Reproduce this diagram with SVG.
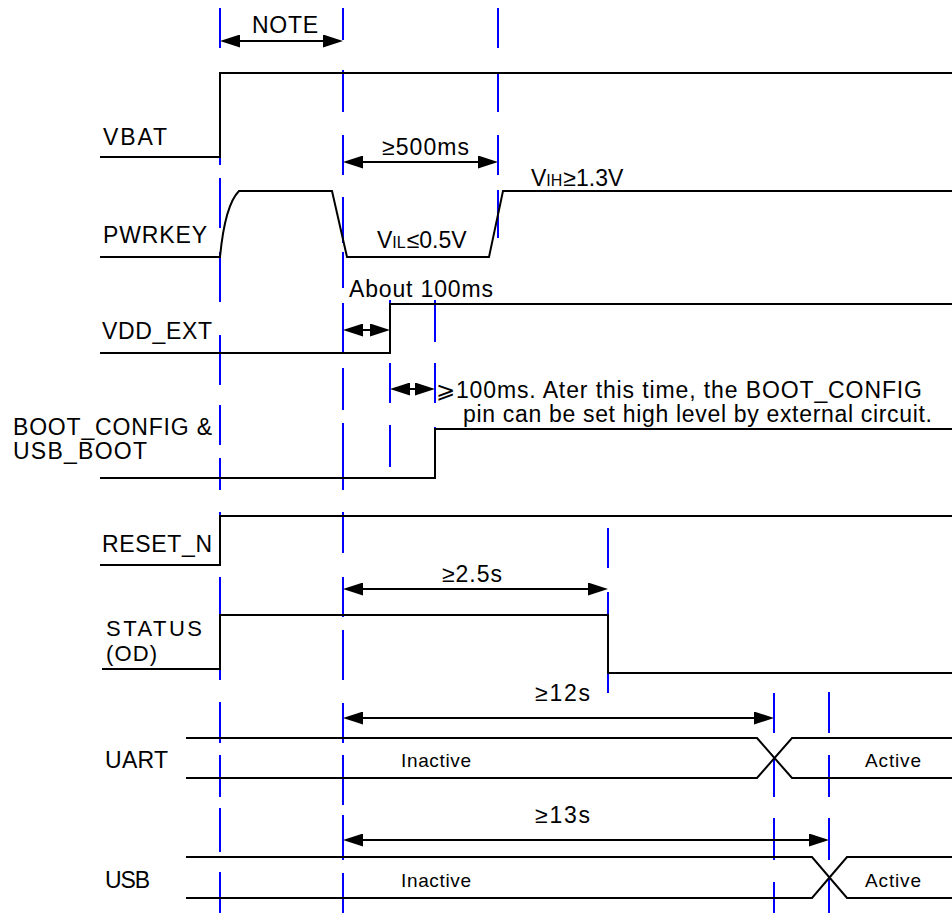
<svg xmlns="http://www.w3.org/2000/svg" width="952" height="913" viewBox="0 0 952 913">
<style>
.sig{fill:none;stroke:#000;stroke-width:2}
.grid{fill:none;stroke:#0000FF;stroke-width:2}
.arr{fill:none;stroke:#000;stroke-width:2;marker-start:url(#ah);marker-end:url(#ah)}
text{font-family:"Liberation Sans",Arial,sans-serif;fill:#000}
.lbl{font-size:23px}
.lbl2{font-size:22px}
.sm{font-size:19px}
</style>
<defs>
<marker id="ah" markerUnits="userSpaceOnUse" markerWidth="20" markerHeight="13" refX="2" refY="6.5" orient="auto-start-reverse" viewBox="0 0 20 13">
<path d="M0,0 L20,6.5 L0,13 z" fill="#000"/>
</marker>
</defs>
<rect width="952" height="913" fill="#fff"/>
<g id="gridlines">
<path class="grid" d="M220,8V48M220,72V165M220,178V228M220,252V302M220,335V385M220,405V445M220,458V490M220,512V565M220,577V680M220,702V743M220,755V797M220,808V852M220,872V913"/>
<path class="grid" d="M343,8V40M343,70V112M343,135V175M343,197V243M343,252V288M343,303V353M343,368V410M343,423V490M343,512V553M343,577V617M343,630V680M343,703V743M343,755V805M343,815V860M343,873V913"/>
<path class="grid" d="M498,8V48M498,72V112M498,135V175M498,190V238"/>
<path class="grid" d="M390,300V342M390,363V403M390,425V467"/>
<path class="grid" d="M435,300V342M435,363V403M435,427V478"/>
<path class="grid" d="M608,528V568M608,592V693"/>
<path class="grid" d="M774,693V733M774,757V797M774,818V860M774,882V913"/>
<path class="grid" d="M829,692V733M829,755V797M829,818V860M829,877V913"/>
</g>
<g id="vbat">
<path class="sig" d="M100,157H220V73H952"/>
<text class="lbl" x="103" y="145" textLength="64" lengthAdjust="spacing">VBAT</text>
</g>
<g id="pwrkey">
<path class="sig" d="M100,257H220Q225,205 239,191H332L347,257H489L503,191H952"/>
<text class="lbl" x="103" y="243" textLength="104" lengthAdjust="spacing">PWRKEY</text>
<text class="lbl" x="377" y="248">V<tspan font-size="16">IL</tspan><tspan dx="1">≤0.5V</tspan></text>
<text class="lbl" x="531" y="186">V<tspan font-size="16">IH</tspan><tspan dx="1">≥1.3V</tspan></text>
</g>
<g id="vdd_ext">
<path class="sig" d="M100,353H390V304H952"/>
<text class="lbl" x="102" y="339" textLength="110" lengthAdjust="spacing">VDD_EXT</text>
</g>
<g id="boot_config">
<path class="sig" d="M100,478H435V429H952"/>
<text class="lbl" x="13" y="435" textLength="199" lengthAdjust="spacing">BOOT_CONFIG &amp;</text>
<text class="lbl" x="13" y="459" textLength="134" lengthAdjust="spacing">USB_BOOT</text>
</g>
<g id="reset_n">
<path class="sig" d="M100,565H220V516H952"/>
<text class="lbl" x="102" y="552" textLength="110" lengthAdjust="spacing">RESET_N</text>
</g>
<g id="status">
<path class="sig" d="M102,669H220V615H608V673H952"/>
<text class="lbl2" x="106" y="636" textLength="96" lengthAdjust="spacing">STATUS</text>
<text class="lbl2" x="106" y="661" textLength="51" lengthAdjust="spacing">(OD)</text>
</g>
<g id="uart">
<path class="sig" d="M186,738H757L792,778H952M186,778H757L792,738H952"/>
<text class="lbl" x="105" y="768" textLength="63" lengthAdjust="spacing">UART</text>
<text class="sm" x="401" y="767" textLength="70" lengthAdjust="spacing">Inactive</text>
<text class="sm" x="865" y="767" textLength="56" lengthAdjust="spacing">Active</text>
</g>
<g id="usb">
<path class="sig" d="M186,857H812L847,898H952M186,898H812L847,857H952"/>
<text class="lbl" x="105" y="888" textLength="45" lengthAdjust="spacing">USB</text>
<text class="sm" x="401" y="887" textLength="70" lengthAdjust="spacing">Inactive</text>
<text class="sm" x="865" y="887" textLength="56" lengthAdjust="spacing">Active</text>
</g>
<g id="connectors">
<path class="arr" d="M238,41H325"/>
<path class="arr" d="M361,162H480"/>
<path class="arr" d="M361,330H372"/>
<path class="arr" d="M408,389H417"/>
<path class="arr" d="M361,589H590"/>
<path class="arr" d="M361,718H756"/>
<path class="arr" d="M361,840H811"/>
</g>
<g id="labels">
<text class="lbl" x="252" y="33" textLength="66" lengthAdjust="spacing">NOTE</text>
<text class="lbl" x="382" y="155" textLength="87" lengthAdjust="spacing">≥500ms</text>
<text class="lbl" x="349" y="297" textLength="144" lengthAdjust="spacing">About 100ms</text>
<text class="lbl" x="436" y="398" textLength="486" lengthAdjust="spacing">⩾100ms. Ater this time, the BOOT_CONFIG</text>
<text class="lbl" x="463" y="422" textLength="469" lengthAdjust="spacing">pin can be set high level by external circuit.</text>
<text class="lbl" x="442" y="582" textLength="60" lengthAdjust="spacing">≥2.5s</text>
<text class="lbl" x="535" y="701" textLength="55" lengthAdjust="spacing">≥12s</text>
<text class="lbl" x="535" y="823" textLength="55" lengthAdjust="spacing">≥13s</text>
</g>
</svg>
